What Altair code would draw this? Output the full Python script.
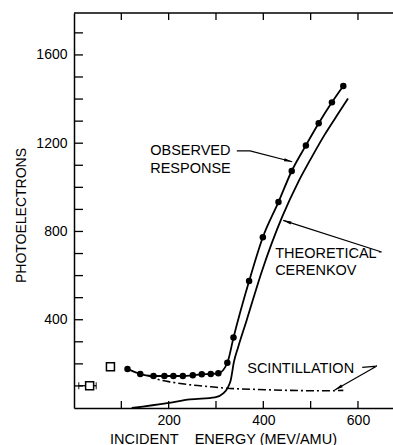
import math
import altair as alt
import pandas as pd

# Plot geometry and axis ranges
W, H = 319, 395
X_MAX = 674
Y_MAX = 1790
KX = W / X_MAX  # px per MeV/AMU
KY = H / Y_MAX  # px per photoelectron
FONT = "Liberation Sans"

# Observed response (filled circles joined by a smooth curve)
obs_energy = [113, 140, 168, 191, 210, 230, 251, 270, 289, 305, 324, 337,
              370, 399, 432, 460, 490, 517, 545, 569]
obs_pe = [177, 154, 145, 145, 145, 145, 148, 153, 154, 157, 205, 319,
          575, 774, 933, 1074, 1190, 1290, 1385, 1459]

# Theoretical Cerenkov yield
cer_energy = [122, 197, 245, 298, 316, 326, 331, 338, 346, 365, 397, 440,
              474, 500, 530, 560, 579]
cer_pe = [0, 22, 39, 48, 67, 97, 125, 210, 270, 399, 620, 867,
          1025, 1128, 1240, 1340, 1403]

# Scintillation contribution
sci_energy = [155, 180, 210, 250, 290, 320, 390, 450, 530, 569]
sci_pe = [148, 128, 116, 104, 96, 90, 84, 80, 78, 80]

# Low-energy open-square measurements (first one with an energy spread)
sq_energy = [33, 77]
sq_pe = [101, 187]
sq_err_lo = [10]
sq_err_hi = [47]
sq_err_pe = [101]

# Axis ticks
x_labels = [200, 400, 600]
y_labels = [400, 800, 1200, 1600]
x_ticks = [100, 200, 300, 400, 500, 600]
y_ticks = list(range(100, 1800, 100))

# Annotation labels (left edge, baseline)
label_text = ["OBSERVED", "RESPONSE", "THEORETICAL", "CERENKOV", "SCINTILLATION"]
label_x = [161, 161, 425, 425, 366]
label_y = [1146, 1066, 678, 603, 160]

# Leader arrows: polyline vertices, last vertex is the arrow tip
arrows = {
    "obs": ([344, 372, 461], [1165, 1165, 1116]),
    "cer": ([644, 650, 442], [707, 707, 850]),
    "sci": ([609, 640, 551], [184, 190, 82]),
}

xs = alt.Scale(domain=[0, X_MAX], nice=False, zero=False)
ys = alt.Scale(domain=[0, Y_MAX], nice=False, zero=False)

obs_df = pd.DataFrame({"e": obs_energy, "p": obs_pe})
cer_df = pd.DataFrame({"e": cer_energy, "p": cer_pe})
sci_df = pd.DataFrame({"e": sci_energy, "p": sci_pe})
sq_df = pd.DataFrame({"e": sq_energy, "p": sq_pe})
err_df = pd.DataFrame({"e": sq_err_lo, "hi": sq_err_hi, "p": sq_err_pe})
cap_df = pd.DataFrame({"e": sq_err_lo + sq_err_hi, "p": sq_err_pe * 2})
lab_df = pd.DataFrame({"t": label_text, "e": label_x, "p": label_y})

arrow_rows, head_rows = [], []
for name, (ax_, ay_) in arrows.items():
    for i, (a, b) in enumerate(zip(ax_, ay_)):
        arrow_rows.append({"g": name, "o": i, "e": a, "p": b})
    dx = (ax_[-1] - ax_[-2]) * KX
    dy = -(ay_[-1] - ay_[-2]) * KY
    n = math.hypot(dx, dy)
    back = 4.0
    cx = ax_[-1] - dx / n * back / KX
    cy = ay_[-1] + dy / n * back / KY
    ang = math.degrees(math.atan2(dx, -dy)) % 360
    head_rows.append({"e": cx, "p": cy, "a": ang})
arrow_df = pd.DataFrame(arrow_rows)
head_df = pd.DataFrame(head_rows)

X_TITLE = "INCIDENT\u00a0\u00a0\u00a0\u00a0ENERGY (MEV/AMU)"
Y_TITLE = "PHOTOELECTRONS"

x_axis = alt.Axis(values=x_labels, ticks=False, tickSize=0, grid=False,
                  domain=True, domainColor="black", domainWidth=1.5,
                  labelFont=FONT, labelFontSize=14, labelColor="black",
                  labelPadding=5, format="d",
                  titleFont=FONT, titleFontSize=14.5, titleFontWeight="normal",
                  titleColor="black", titleX=149, titleY=35,
                  titleAlign="center", titleBaseline="alphabetic")
y_axis = alt.Axis(values=y_labels, ticks=False, tickSize=0, grid=False,
                  domain=True, domainColor="black", domainWidth=1.5,
                  labelFont=FONT, labelFontSize=14, labelColor="black",
                  labelPadding=7, format="d",
                  titleFont=FONT, titleFontSize=14, titleFontWeight="normal",
                  titleColor="black", titleX=-49, titleY=202,
                  titleAlign="center", titleBaseline="alphabetic",
                  titleAngle=270)


def X(field="e"):
    return alt.X(f"{field}:Q", scale=xs, axis=x_axis, title=X_TITLE)


def Y(field="p"):
    return alt.Y(f"{field}:Q", scale=ys, axis=y_axis, title=Y_TITLE)


obs_line = alt.Chart(obs_df).mark_line(
    color="black", strokeWidth=1.8, interpolate="monotone"
).encode(x=X(), y=Y())

obs_pts = alt.Chart(obs_df).mark_point(
    filled=True, color="black", size=42, opacity=1
).encode(x=X(), y=Y())

cer_line = alt.Chart(cer_df).mark_line(
    color="black", strokeWidth=1.8, interpolate="monotone"
).encode(x=X(), y=Y())

sci_line = alt.Chart(sci_df).mark_line(
    color="black", strokeWidth=1.6, strokeDash=[8, 3, 2, 3],
    interpolate="monotone"
).encode(x=X(), y=Y())

err_bar = alt.Chart(err_df).mark_rule(color="black", strokeWidth=1.3).encode(
    x=X(), x2="hi:Q", y=Y()
)
err_caps = alt.Chart(cap_df).mark_tick(
    color="black", thickness=1.3, size=7, orient="vertical"
).encode(x=X(), y=Y())

squares = alt.Chart(sq_df).mark_point(
    shape="square", filled=True, fill="white", stroke="black",
    strokeWidth=1.5, size=64, opacity=1
).encode(x=X(), y=Y())

labels = alt.Chart(lab_df).mark_text(
    align="left", baseline="alphabetic", font=FONT, fontSize=14.5, color="black"
).encode(x=X(), y=Y(), text="t:N")

arrow_lines = alt.Chart(arrow_df).mark_line(
    color="black", strokeWidth=1.2
).encode(x=X(), y=Y(), detail="g:N", order="o:Q")

arrow_heads = alt.Chart(head_df).mark_point(
    shape="M0,-1L0.38,1L-0.38,1Z", filled=True, color="black", size=70,
    opacity=1
).encode(x=X(), y=Y(), angle=alt.Angle("a:Q", scale=None))

# Frame: top edge and inward-pointing ticks
frame_top = alt.Chart(pd.DataFrame({"k": [0]})).mark_rule(
    color="black", strokeWidth=1.5
).encode(x=alt.value(0), x2=alt.value(W), y=alt.value(0))

tick_x_df = pd.DataFrame({"e": x_ticks})
tick_y_df = pd.DataFrame({"p": y_ticks})
ticks_bottom = alt.Chart(tick_x_df).mark_rule(color="black", strokeWidth=1.3).encode(
    x=X(), y=alt.value(H), y2=alt.value(H - 7))
ticks_top = alt.Chart(tick_x_df).mark_rule(color="black", strokeWidth=1.3).encode(
    x=X(), y=alt.value(0), y2=alt.value(7))
ticks_left = alt.Chart(tick_y_df).mark_rule(color="black", strokeWidth=1.3).encode(
    y=Y(), x=alt.value(0), x2=alt.value(9))

chart = alt.layer(
    obs_line, frame_top, ticks_bottom, ticks_top, ticks_left,
    cer_line, sci_line, obs_pts, err_bar, err_caps, squares,
    labels, arrow_lines, arrow_heads,
).properties(
    width=W, height=H,
    padding={"left": 74, "top": 13, "right": 0, "bottom": 37},
    autosize=alt.AutoSizeParams(type="none"),
    background="white",
).configure_view(stroke=None)

chart.save("out.html", embed_options={"renderer": "svg", "actions": False})
